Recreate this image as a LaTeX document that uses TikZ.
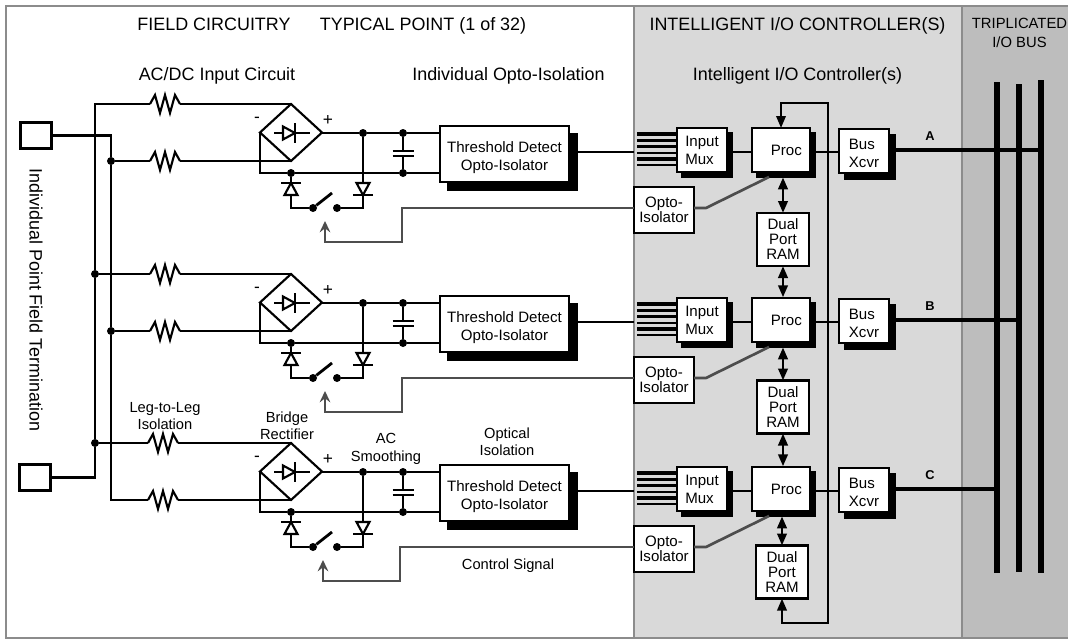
\documentclass[tikz,border=0pt]{standalone}
\usepackage{fontspec}
\setmainfont{Liberation Sans}
\usetikzlibrary{arrows.meta,calc,shadows,shapes.geometric}
\definecolor{ctrlgray}{HTML}{4D4D4D}
\definecolor{framegray}{HTML}{8C8C8C}
\definecolor{panelio}{HTML}{D9D9D9}
\definecolor{panelbus}{HTML}{BDBDBD}
\tikzset{
    wire/.style={line width=2.1pt},
    thinwire/.style={line width=1.6pt},
    ctrl/.style={line width=2pt, color=ctrlgray},
    busline/.style={line width=3.2pt},
    head/.style={line width=2.1pt, {Stealth[length=9pt,width=7pt,inset=0pt]}-{Stealth[length=9pt,width=7pt,inset=0pt]}},
    dot/.style={circle, fill=black, inner sep=0pt, minimum size=6pt},
    sized/.style 2 args={minimum width=#1*0.75pt, minimum height=#2*0.75pt, inner sep=0pt, outer sep=0pt},
    plain/.style={draw, fill=white, line width=1.7pt, align=center, font=\fontsize{11.3}{11.25}\selectfont},
    shadowbox/.style={plain, font=\fontsize{11.3}{13.5}\selectfont, copy shadow={draw=black, fill=black, shadow xshift=#1, shadow yshift=-#1}},
    boxtext/.style={font=\fontsize{11.3}{13.5}\selectfont, inner sep=0pt, yshift=-#1},
    title/.style={font=\fontsize{13.45}{16}\selectfont, align=center, anchor=base},
    note/.style={font=\fontsize{11}{13}\selectfont, align=center},
    sign/.style={font=\fontsize{13}{14}\selectfont},
}
% zigzag between two named ends
\newcommand{\resistor}[2]{\draw[thinwire] (#1) -- ++(5,-9) -- ++(5,18) -- ++(5,-18) -- ++(5,18) -- ++(5,-18) -- (#2);}
\newcommand{\diode}[2]{
    \begin{scope}[shift={(#1)}, rotate=#2]
        \draw[thinwire, fill=white] (-6,-6.5) -- (6,0) -- (-6,6.5) -- cycle;
        \draw[wire] (6,-10) -- (6,10);
    \end{scope}}
\begin{document}
\begin{tikzpicture}[x=0.75pt, y=-0.75pt]
    \useasboundingbox (0,0) rectangle (1068,639);

    % Panels
    \fill[white] (0,0) rectangle (1068,639);
    \fill[panelio] (634,6) rectangle (962,638);
    \fill[panelbus] (962,6) rectangle (1068,638);
    \draw[framegray, line width=1.5pt] (1068,6) -- (5.5,6) -- (5.5,638) -- (1068,638);
    \draw[framegray, line width=1.5pt] (634,6) -- (634,638);
    \draw[framegray, line width=1.5pt] (962,6) -- (962,638);

    % Headings
    \node[title] (hfield) at (214,31) {FIELD CIRCUITRY};
    \node[title] (htyp) at (423,31) {TYPICAL POINT (1 of 32)};
    \node[title] (hctl) at (797.5,31) {INTELLIGENT I/O CONTROLLER(S)};
    \node[font=\fontsize{11.1}{14}\selectfont, align=center] (hbus) at (1019.5,33) {TRIPLICATED\\I/O BUS};
    \node[title] (hac) at (217,80) {AC/DC Input Circuit};
    \node[title] (hopt) at (508.5,80) {Individual Opto-Isolation};
    \node[title] (hctl2) at (797.5,80) {Intelligent I/O Controller(s)};
    \node[title, anchor=center, rotate=-90] (hterm) at (36,300) {Individual Point Field Termination};
    \node[note] (nleg) at (165,416) {Leg-to-Leg\\Isolation};
    \node[note] (nbr) at (287,425.5) {Bridge\\Rectifier};
    \node[note] (nsm) at (386,449) {AC\\Smoothing};
    \node[note] (nopt) at (507,442) {Optical\\Isolation};
    \node[note] (nsig) at (508,566) {Control Signal};

    % Triplicated bus
    \coordinate (railA) at (1041,80);
    \coordinate (railB) at (1019,84);
    \coordinate (railC) at (997,82);
    \draw[line width=4.5pt] (railA) -- (railA |- 0,573);
    \draw[line width=3.8pt] (railB) -- (railB |- 0,572);
    \draw[line width=4.5pt] (railC) -- (railC |- 0,573);

    % One typical point per row
    \foreach \r/\dy/\gx/\rail/\tag in {1/0/0/A/A, 2/170/0/B/B, 3/339/-2/C/C} {
        \begin{scope}[shift={(0,\dy)}]
            % Nodes
            \node[draw, diamond, aspect=1.09, thinwire, sized={62}{57}] (bridge\r) at (291,132.5) {};
            \node[shadowbox=6pt, sized={129}{56}, label={[boxtext=2.6pt, align=center]center:Threshold Detect\\Opto-Isolator}] (thr\r) at (504.5,154) {};
            \node[shadowbox=4pt, sized={50}{44}, align=left] (mux\r) at (702,150) {Input\\Mux};
            \node[shadowbox=4pt, sized={58}{44}] (proc\r) at (781,150) {\hspace{8pt}Proc};
            \node[shadowbox=4.5pt, sized={50}{44}, label={[boxtext=1.5pt, align=left]center:Bus\\Xcvr}] (xcvr\r) at (864,151) {};
            \node[plain, sized={60}{46}] (opto\r) at (664,210) {Opto-\\Isolator};
            \node[dot] (neg\r) at (291,173) {};
            \node[dot] (pos\r) at (363,133) {};
            \node[dot] (capt\r) at (403,133) {};
            \node[dot] (capb\r) at (403,173) {};
            \node[dot] (swa\r) at (313,208) {};
            \node[dot] (swb\r) at (337,208) {};
            \node[sized={21}{5}] (cap\r) at (403,153.5) {};
            \node[sign] (minus\r) at (257,120) {-};
            \node[sign] (plus\r) at (328,120) {+};
            \coordinate (ra\r) at (150+\gx,104);
            \coordinate (rb\r) at (180+\gx,104);
            \coordinate (rc\r) at (150+\gx,161);
            \coordinate (rd\r) at (180+\gx,161);
            \coordinate (lvl\r) at (634,152);
            \coordinate (gt\r) at (402+\gx,208);
            \coordinate (gb\r) at (402+\gx,242);
            \coordinate (ga\r) at (325+\gx,221);
            \coordinate (gk\r) at (706,208);
            \coordinate (gp\r) at (769,177);
            \coordinate (bl\r) at (895,150);

            % Bridge and smoothing
            \draw[wire] (rb\r) -- (bridge\r.north);
            \draw[wire] (rd\r) -- (bridge\r.south);
            \resistor{ra\r}{rb\r}
            \resistor{rc\r}{rd\r}
            \draw[wire] (bridge\r.west) |- (neg\r) -- (capb\r) -- (thr\r.west |- capb\r);
            \draw[wire] (bridge\r.east |- pos\r) -- (pos\r) -- (capt\r) -- (thr\r.west |- capt\r);
            \draw[wire] (capt\r) -- (cap\r.north);
            \draw[wire] (cap\r.south) -- (capb\r);
            \draw[wire] (cap\r.north west) -- (cap\r.north east);
            \draw[wire] (cap\r.south west) -- (cap\r.south east);
            \draw[wire] (274,133) -- (310,133);
            \diode{289,133}{0}

            % Clamp diodes and switch
            \draw[thinwire] (neg\r) |- (swa\r);
            \draw[thinwire] (pos\r) |- (swb\r);
            \draw[wire] (swa\r) -- ++(19,-15);
            \diode{291,189}{90}
            \diode{363,189}{-90}

            % Control signal
            \draw[ctrl, -{Stealth[length=8.5pt,width=8pt,inset=3pt]}] (opto\r.west |- gt\r) -- (gt\r) -- (gb\r) -| (ga\r);
            \draw[ctrl] (opto\r.east |- gk\r) -- (gk\r) -- (gp\r);

            % Signal path
            \draw[line width=2.1pt] (thr\r.east |- lvl\r) -- (lvl\r);
            \foreach \k/\w in {134/2.6, 140.5/1.7, 146.5/2.6, 153/1.7, 159/2.6, 165/1.7}
                \draw[line width=\w pt] (637,\k) -- (mux\r.west |- 0,\k);
            \draw[wire] (mux\r.east |- lvl\r) -- (proc\r.west |- lvl\r);
            \draw[wire] (proc\r.east |- lvl\r) -- (xcvr\r.west |- lvl\r);
            \draw[busline] (xcvr\r.east |- bl\r) -- (rail\rail |- bl\r);
            \node[font=\fontsize{9.6}{10}\bfseries\selectfont] (tag\r) at (930,136) {\tag};
        \end{scope}
    }

    % Dual port memories
    \foreach \r/\x/\ramy in {1/783/239.5, 2/783/407, 3/782/572}
        \node[plain, sized={52}{53}] (ram\r) at (\x,\ramy) {Dual\\Port\\RAM};
    \foreach \r/\n in {1/2, 2/3}
        \draw[head, shorten >=0.5pt] (ram\r.south) -- (ram\r.south |- proc\n.north);
    \foreach \r in {1,2,3}
        \draw[head, shorten >=4pt] (ram\r.north) -- (ram\r.north |- proc\r.south);

    % Return loop
    \coordinate (loopa) at (828,103);
    \coordinate (loopb) at (828,623);
    \draw[line width=1.8pt, {Stealth[length=9pt,width=7pt,inset=0pt]}-{Stealth[length=9pt,width=7pt,inset=0pt]}]
        (proc1.north) |- (loopa) -- (loopb) -| (ram3.south);

    % Terminals and rails
    \node[draw, thinwire, sized={31}{26}] (terma) at (36,135.5) {};
    \node[draw, thinwire, sized={31}{26}] (termb) at (35,477.5) {};
    \coordinate (outer) at (95,104);
    \coordinate (inner) at (111,135.5);
    \node[dot] (jb2) at (95,274) {};
    \node[dot] (jb3) at (95,443) {};
    \node[dot] (ja1) at (111,161) {};
    \node[dot] (ja2) at (111,331) {};
    \draw[wire] (ra1) -- (outer) -- (jb2) -- (jb3) |- (termb.east);
    \draw[wire] (terma.east) -- (inner) -- (ja1) -- (ja2) |- (rc3);
    \draw[wire] (ja1) -- (rc1);
    \draw[wire] (ja2) -- (rc2);
    \draw[wire] (jb2) -- (ra2);
    \draw[wire] (jb3) -- (ra3);
\end{tikzpicture}
\end{document}
